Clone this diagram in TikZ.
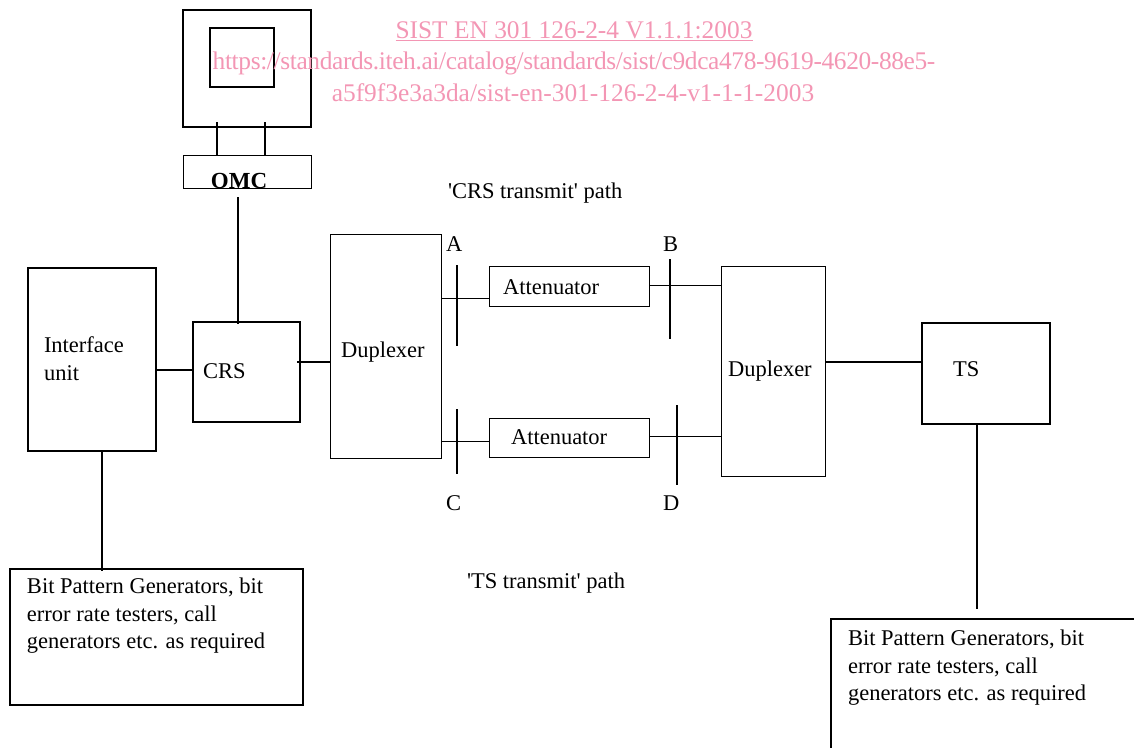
\documentclass[tikz,border=0pt]{standalone}
\usepackage{fontspec}
\setmainfont{Liberation Serif}
\definecolor{wm}{HTML}{F396B4}
\tikzset{
  x=1pt,y=-1pt,
  box/.style={draw=black,line width=1pt,inner sep=0pt,outer sep=0pt,anchor=north west},
  midbox/.style={box,line width=1.4pt},
  heavybox/.style={box,line width=1.6pt},
  wire/.style={draw=black,line width=1pt},
  midwire/.style={draw=black,line width=1.4pt},
  heavywire/.style={draw=black,line width=1.8pt},
  bar/.style={draw=black,line width=1.5pt},
  txt/.style={inner sep=0pt,outer sep=0pt,anchor=base west,font=\fontsize{22.5pt}{26pt}\selectfont,align=left},
  wmtxt/.style={inner sep=0pt,outer sep=0pt,anchor=base,text=wm,font=\fontsize{25.4pt}{30pt}\selectfont},
}
\begin{document}
\begin{tikzpicture}
\useasboundingbox (0,0) rectangle (1134,747);
\clip (0,0) rectangle (1134,747);
% boxes
\node[heavybox,minimum width=128pt,minimum height=117pt] (mon) at (183,10) {};
\node[heavybox,minimum width=64pt,minimum height=59pt,line width=1.3pt] (scr) at (210,28) {};
\node[box,minimum width=128pt,minimum height=33pt] (omc) at (183,155) {};
\node[midbox,minimum width=128pt,minimum height=183pt] (iface) at (28,268) {};
\node[midbox,minimum width=107pt,minimum height=100pt] (crs) at (193,322) {};
\node[box,minimum width=111pt,minimum height=224pt] (dupa) at (330,234) {};
\node[box,minimum width=160pt,minimum height=40pt] (atta) at (489,266) {};
\node[box,minimum width=160pt,minimum height=39pt] (attb) at (489,418) {};
\node[box,minimum width=104pt,minimum height=210pt] (dupb) at (721,266) {};
\node[midbox,minimum width=128pt,minimum height=101pt] (ts) at (922,323) {};
\node[midbox,minimum width=293pt,minimum height=136pt] (bita) at (10,569) {};
\node[heavybox,minimum width=340pt,minimum height=200pt] (bitb) at (831,619) {};
% named levels and free ends
\coordinate (la) at (0,298); \coordinate (lb) at (0,285.5);
\coordinate (lc) at (0,441); \coordinate (ld) at (0,436);
\coordinate (lcrs) at (0,370); \coordinate (ldup) at (0,362);
\coordinate (omcend) at (238,197); \coordinate (crsin) at (238,324);
\coordinate (tsend) at (977,609); \coordinate (thickstart) at (297,362);
\coordinate (legl) at (217,122); \coordinate (legr) at (265,122);
\coordinate (barAt) at (457,265); \coordinate (barAb) at (457,346);
\coordinate (barBt) at (670,259); \coordinate (barBb) at (670,339);
\coordinate (barCt) at (457,409); \coordinate (barCb) at (457,474);
\coordinate (barDt) at (677,405); \coordinate (barDb) at (677,485);
\coordinate (ifx) at (102,571);
% connectors
\draw[bar,line width=1.8pt] (legl) -- (legl |- omc.north);
\draw[bar,line width=1.8pt] (legr) -- (legr |- omc.north);
\draw[midwire] (omcend) -- (crsin);
\draw[midwire] (iface.east |- lcrs) -- (crs.west |- lcrs);
\draw[heavywire] (thickstart) -- (dupa.west |- ldup);
\draw[wire] (dupa.east |- la) -- (atta.west |- la);
\draw[wire] (dupa.east |- lc) -- (attb.west |- lc);
\draw[wire] (atta.east |- lb) -- (dupb.west |- lb);
\draw[wire] (attb.east |- ld) -- (dupb.west |- ld);
\draw[heavywire] (dupb.east |- ldup) -- (ts.west |- ldup);
\draw[midwire] (ifx |- iface.south) -- (ifx);
\draw[midwire] (tsend |- ts.south) -- (tsend);
\draw[bar] (barAt) -- (barAb);
\draw[bar] (barBt) -- (barBb);
\draw[bar] (barCt) -- (barCb);
\draw[bar] (barDt) -- (barDb);
% labels
\node[txt,font=\fontsize{23pt}{26pt}\selectfont\bfseries,anchor=base] (omclab) at (239,188) {OMC};
\node[txt] (ifl) at (44,352.5) {Interface};
\node[txt] (ifl2) at (44,380) {unit};
\node[txt] (crsl) at (203,378) {CRS};
\node[txt] (dal) at (341,357) {Duplexer};
\node[txt] (dbl) at (728,376) {Duplexer};
\node[txt] (tsl) at (953,376) {TS};
\node[txt] (at1) at (503,294) {Attenuator};
\node[txt] (at2) at (511,444) {Attenuator};
\node[txt] (lA) at (446,251) {A};
\node[txt] (lB) at (663,251) {B};
\node[txt] (lC) at (446,510) {C};
\node[txt] (lD) at (663,510) {D};
\node[txt] (p1) at (448,198) {\textquotesingle CRS transmit\textquotesingle\ path};
\node[txt] (p2) at (467,588) {\textquotesingle TS transmit\textquotesingle\ path};
\node[txt] (ba1) at (27,593) {Bit Pattern Generators, bit};
\node[txt] (ba2) at (27,621) {error rate testers, call};
\node[txt] (ba3) at (27,648) {generators etc. as required};
\node[txt] (bb1) at (848,645) {Bit Pattern Generators, bit};
\node[txt] (bb2) at (848,673) {error rate testers, call};
\node[txt] (bb3) at (848,700) {generators etc. as required};
% watermark
\node[wmtxt] (w1) at (574,38) {\underline{SIST EN 301 126-2-4 V1.1.1:2003}};
\node[wmtxt] (w2) at (574,69) {\addfontfeature{LetterSpace=-1.45}https://standards.iteh.ai/catalog/standards/sist/c9dca478-9619-4620-88e5-};
\node[wmtxt] (w3) at (573,101.5) {a5f9f3e3a3da/sist-en-301-126-2-4-v1-1-1-2003};
\end{tikzpicture}
\end{document}
